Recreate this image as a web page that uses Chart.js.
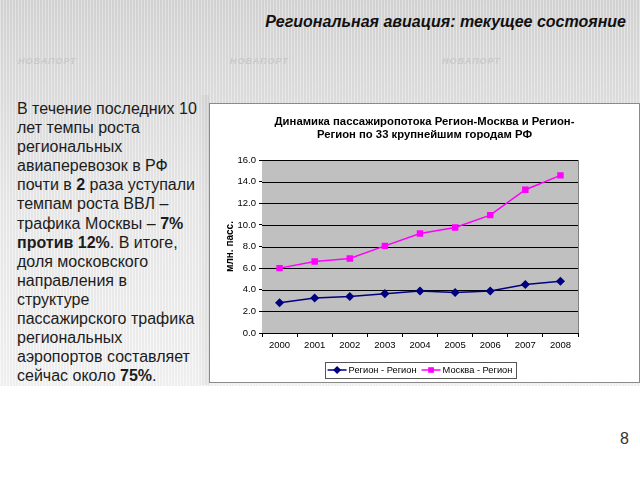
<!DOCTYPE html>
<html>
<head>
<meta charset="utf-8">
<script src="https://cdn.jsdelivr.net/npm/chart.js@4.4.1/dist/chart.umd.min.js"></script>
<style>
  html, body { margin:0; padding:0; }
  body { width:640px; height:480px; position:relative; overflow:hidden; background:#ffffff; font-family:"Liberation Sans", Arial, sans-serif; }
  #bg { position:absolute; left:0; top:0; width:640px; height:386px;
        background:
          repeating-linear-gradient(90deg, rgba(255,255,255,0.25) 0px, rgba(255,255,255,0.25) 1px, rgba(0,0,0,0.03) 1px, rgba(0,0,0,0.03) 3px),
          linear-gradient(180deg, #d8d8d8 0px, #e2e2e2 100px, #ececec 200px, #f6f6f6 386px); }
  #stripe { position:absolute; left:198px; top:95px; width:11px; height:290px; background:linear-gradient(90deg, rgba(0,0,0,0.0), rgba(0,0,0,0.06)); }
  .logo { position:absolute; color:#c9c9c9; font-size:9px; font-weight:bold; letter-spacing:1px; font-style:italic; }
  #hdr { position:absolute; right:14px; top:13px; font-size:16px; font-weight:bold; font-style:italic; color:#111; white-space:nowrap; }
  #txt { position:absolute; left:17px; top:99px; font-size:16px; line-height:19.1px; color:#1c1c1c; white-space:nowrap; }
  #frame { position:absolute; left:209px; top:103px; width:429px; height:278px; border:1px solid #8a8a8a; background:#fff; }
  #pg { position:absolute; left:620px; top:430px; font-size:16px; color:#333; }
</style>
</head>
<body>
<div id="bg"></div>
<div id="stripe"></div>
<div class="logo" style="left:18px;top:56px;">НОВАПОРТ</div>
<div class="logo" style="left:230px;top:56px;">НОВАПОРТ</div>
<div class="logo" style="left:442px;top:56px;">НОВАПОРТ</div>
<div id="hdr">Региональная авиация: текущее состояние</div>
<div id="txt">В течение последних 10<br>лет темпы роста<br>региональных<br>авиаперевозок в РФ<br>почти в <b>2</b> раза уступали<br>темпам роста ВВЛ –<br>трафика Москвы – <b>7%</b><br><b>против 12%</b>. В итоге,<br>доля московского<br>направления в<br>структуре<br>пассажирского трафика<br>региональных<br>аэропортов составляет<br>сейчас около <b>75%</b>.</div>
<div id="frame"><canvas id="c" width="429" height="278"></canvas></div>
<div id="pg">8</div>
<script>
const categories = ['2000','2001','2002','2003','2004','2005','2006','2007','2008'];
const regionRegion = [2.8, 3.24, 3.37, 3.64, 3.89, 3.74, 3.89, 4.48, 4.79];
const moscowRegion = [6.0, 6.61, 6.89, 8.06, 9.2, 9.76, 10.9, 13.25, 14.58];
const seriesNames = ['Регион - Регион', 'Москва - Регион'];
const titleLines = ['Динамика пассажиропотока Регион-Москва и Регион-', 'Регион по 33 крупнейшим городам РФ'];
const yAxisTitle = 'млн. пасс.';
const yMin = 0, yMax = 16, yStep = 2;

const FONT = '"Liberation Sans", Arial, sans-serif';

const decor = {
  id: 'decor',
  beforeDatasetsDraw(chart) {
    const {ctx, chartArea: a} = chart;
    ctx.save();
    ctx.fillStyle = '#c0c0c0';
    ctx.fillRect(a.left, a.top, a.right - a.left, a.bottom - a.top);
    const ys = chart.scales.y;
    ctx.strokeStyle = '#000';
    ctx.lineWidth = 1;
    ys.ticks.forEach(t => {
      const y = Math.round(ys.getPixelForValue(t.value)) + 0.5;
      ctx.beginPath(); ctx.moveTo(a.left, y); ctx.lineTo(a.right, y); ctx.stroke();
    });
    ctx.strokeStyle = '#808080';
    ctx.beginPath(); ctx.moveTo(Math.round(a.right) + 0.5, a.top); ctx.lineTo(Math.round(a.right) + 0.5, a.bottom); ctx.stroke();
    ctx.restore();
  },
  afterDraw(chart) {
    const {ctx, chartArea: a, width} = chart;
    ctx.save();
    ctx.fillStyle = '#000';
    ctx.font = 'bold 11.3px ' + FONT;
    ctx.textAlign = 'center';
    ctx.textBaseline = 'middle';
    const cx = width / 2;
    titleLines.forEach((l, i) => ctx.fillText(l, cx, 18 + i * 13.3));
    ctx.font = '9.3px ' + FONT;
    const lineW = 19, gap = 2, itemGap = 5, pad = 3;
    const ds = chart.data.datasets;
    const widths = ds.map(d => lineW + gap + ctx.measureText(d.label).width);
    const total = widths.reduce((s, w) => s + w, 0) + itemGap * (ds.length - 1) + pad * 2;
    const midX = (a.left + a.right) / 2;
    let x = midX - total / 2;
    const boxTop = 258, boxH = 16, yc = boxTop + boxH / 2;
    ctx.fillStyle = '#fff';
    ctx.fillRect(x, boxTop, total, boxH);
    ctx.strokeStyle = '#555';
    ctx.lineWidth = 1;
    ctx.strokeRect(Math.round(x) + 0.5, boxTop + 0.5, Math.round(total), boxH);
    x += pad;
    ds.forEach((d, i) => {
      ctx.strokeStyle = d.borderColor;
      ctx.lineWidth = 1.5;
      ctx.beginPath(); ctx.moveTo(x, yc); ctx.lineTo(x + lineW, yc); ctx.stroke();
      ctx.fillStyle = d.pointBackgroundColor;
      ctx.strokeStyle = d.pointBorderColor;
      Chart.helpers.drawPoint(ctx, {pointStyle: d.pointStyle, radius: 3, borderWidth: 1, rotation: 0}, x + lineW / 2, yc);
      ctx.fillStyle = '#000';
      ctx.textAlign = 'left';
      ctx.fillText(d.label, x + lineW + gap, yc + 0.5);
      x += widths[i] + itemGap;
    });
    ctx.restore();
  }
};

new Chart(document.getElementById('c'), {
  type: 'line',
  data: {
    labels: categories,
    datasets: [
      { label: seriesNames[0], data: regionRegion, borderColor: '#000080', borderWidth: 1.5,
        pointStyle: 'rectRot', pointRadius: 3.5, pointBackgroundColor: '#000080', pointBorderColor: '#000080', tension: 0 },
      { label: seriesNames[1], data: moscowRegion, borderColor: '#ff00ff', borderWidth: 1.5,
        pointStyle: 'rect', pointRadius: 3.5, pointBackgroundColor: '#ff00ff', pointBorderColor: '#ff00ff', tension: 0 }
    ]
  },
  options: {
    responsive: false,
    devicePixelRatio: 1,
    animation: false,
    layout: { padding: { left: 12, right: 61, top: 56, bottom: 29 } },
    plugins: { legend: { display: false }, title: { display: false }, tooltip: { enabled: false } },
    scales: {
      x: {
        type: 'category', offset: true,
        grid: { drawOnChartArea: false, drawTicks: true, tickLength: 4, offset: true, color: '#000' },
        border: { color: '#000' },
        ticks: { color: '#000', font: { size: 9.5, family: FONT }, padding: 3, maxRotation: 0 },
        afterFit: s => { s.height = 20; }
      },
      y: {
        min: yMin, max: yMax,
        grid: { color: '#000', tickLength: 3, drawOnChartArea: true },
        border: { color: '#000' },
        ticks: { stepSize: yStep, color: '#000', font: { size: 9.5, family: FONT }, padding: 3,
                 callback: v => Number(v).toFixed(1) },
        title: { display: true, text: yAxisTitle, color: '#000', font: { size: 10, weight: 'bold', family: FONT }, padding: { top: 2, bottom: 0 } },
        afterFit: s => { s.width = 40; }
      }
    }
  },
  plugins: [decor]
});
</script>
</body>
</html>
